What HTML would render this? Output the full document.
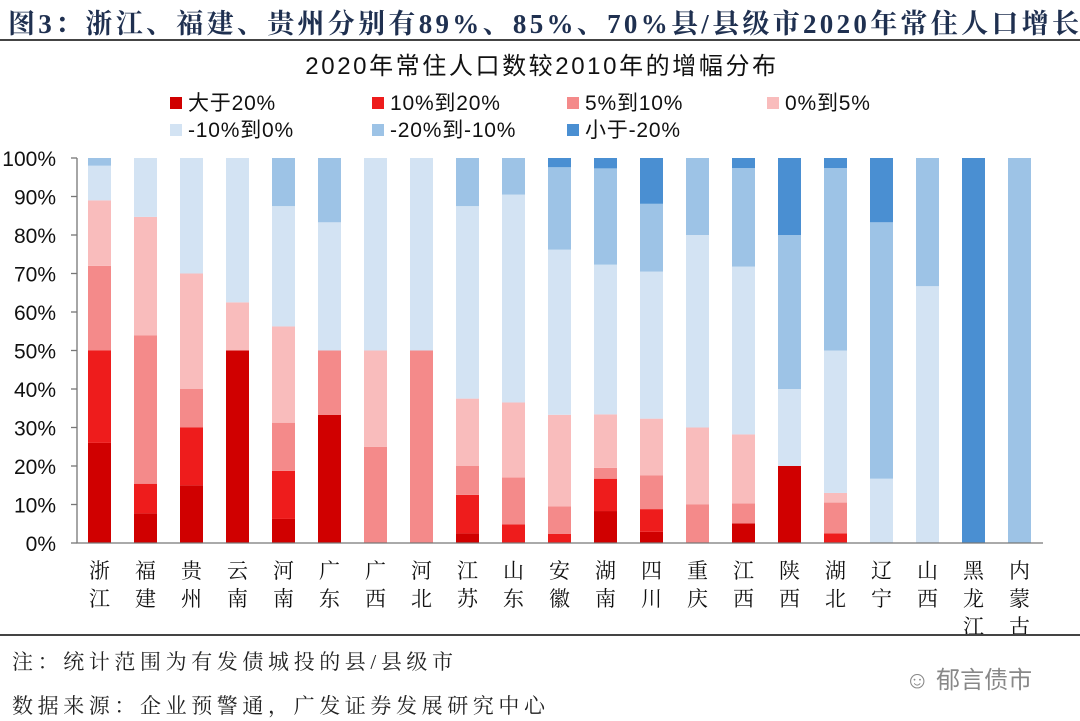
<!DOCTYPE html>
<html><head><meta charset="utf-8"><style>
body{margin:0;width:1080px;height:721px;background:#fff;overflow:hidden;position:relative;font-family:"Liberation Sans","Noto Sans CJK SC",sans-serif}
.hd{position:absolute;left:8px;top:2px;font-size:27px;font-weight:bold;color:#1f3050;font-family:"Liberation Serif","Noto Serif CJK SC",serif;letter-spacing:3.3px;white-space:nowrap}
.ln{position:absolute;left:0;width:1080px;height:2px;background:#444}
.ft{position:absolute;left:12px;font-size:21px;color:#222;font-family:"Liberation Serif","Noto Serif CJK SC",serif;letter-spacing:4.6px;white-space:nowrap}
</style></head><body>
<div class="hd">图3：浙江、福建、贵州分别有89%、85%、70%县/县级市2020年常住人口增长</div>
<div class="ln" style="top:39px"></div>
<svg id="c" width="1080" height="721" style="position:absolute;left:0;top:0"></svg>
<div class="ln" style="top:634px;height:1.5px"></div>
<div class="ft" style="top:646px">注：统计范围为有发债城投的县/县级市</div>
<div class="ft" style="top:690px">数据来源：企业预警通，广发证券发展研究中心</div>
<div style="position:absolute;left:905px;top:660px;font-size:24px;color:#888">☺ 郁言债市</div>
<script>
const categories=["浙江","福建","贵州","云南","河南","广东","广西","河北","江苏","山东","安徽","湖南","四川","重庆","江西","陕西","湖北","辽宁","山西","黑龙江","内蒙古"];
const seriesNames=["大于20%","10%到20%","5%到10%","0%到5%","-10%到0%","-20%到-10%","小于-20%"];
const s1=[26,7.7,15,50,6.25,33.3,0,0,2.5,0,0,8.3,2.9,0,5.1,20,0,0,0,0,0];
const s2=[24,7.7,15,0,12.5,0,0,0,10,4.8,2.4,8.4,5.9,0,0,0,2.5,0,0,0,0];
const s3=[22,38.5,10,0,12.5,16.7,25,50,7.5,12.2,7.1,2.8,8.8,10,5.2,0,8,0,0,0,0];
const s4=[17,30.8,30,12.5,25,0,25,0,17.5,19.5,23.8,13.9,14.7,20,17.9,0,2.5,0,0,0,0];
const s5=[9,15.3,30,37.5,31.25,33.3,50,50,50,54,42.9,38.9,38.2,50,43.6,20,37,16.7,66.7,0,0];
const s6=[2,0,0,0,12.5,16.7,0,0,12.5,9.5,21.4,25,17.6,20,25.6,40,47.4,66.6,33.3,0,100];
const s7=[0,0,0,0,0,0,0,0,0,0,2.4,2.7,11.9,0,2.6,20,2.6,16.7,0,100,0];
const yTicks=["0%","10%","20%","30%","40%","50%","60%","70%","80%","90%","100%"];
const series=[s1,s2,s3,s4,s5,s6,s7];
const colors=["#d00000","#ee1c1c","#f48a8a","#f9bcbc","#d3e3f3","#9dc3e6","#4a8fd2"];
const NS="http://www.w3.org/2000/svg",svg=document.getElementById('c');
const X0=77,Y0=543,Y1=158,STEP=46,BW=23;
const y=v=>Y0-(Y0-Y1)*v/100, x=i=>X0+11+i*STEP;
function mk(t,a,txt){const e=document.createElementNS(NS,t);for(const k in a)e.setAttribute(k,a[k]);if(txt!=null)e.textContent=txt;svg.appendChild(e);return e;}
const tt=mk('text',{x:542,y:74,'text-anchor':'middle','font-size':24,'letter-spacing':2.6,fill:'#111'},'2020年常住人口数较2010年的增幅分布');


const lx=[170,372,567,767];
seriesNames.forEach((n,k)=>{const r=Math.floor(k/4),c=k%4;
 const g=mk('g',{});
 const sq=document.createElementNS(NS,'rect');sq.setAttribute('x',lx[c]);sq.setAttribute('y',97+r*27);sq.setAttribute('width',12);sq.setAttribute('height',12);sq.setAttribute('fill',colors[k]);g.appendChild(sq);
 const t=document.createElementNS(NS,'text');t.setAttribute('x',lx[c]+18);t.setAttribute('y',110+r*27);t.setAttribute('font-size',21);t.setAttribute('letter-spacing',0.8);t.setAttribute('fill','#111');t.textContent=n;g.appendChild(t);});
categories.forEach((cat,i)=>{let acc=0;series.forEach((s,k)=>{const v=s[i];if(v>0){const r=mk('rect',{x:x(i),y:y(acc+v),width:BW,height:y(acc)-y(acc+v),fill:colors[k]});
 
 }acc+=v;});
 [...cat].forEach((ch,j)=>{const t=mk('text',{x:x(i)+BW/2,y:578+j*28,'text-anchor':'middle','font-size':21,fill:'#111','font-family':'"Liberation Serif","Noto Serif CJK SC",serif'},ch);
 
 });});
const ax=mk('path',{d:`M${X0} ${Y1}V${Y0}H1043`,stroke:'#777',fill:'none','stroke-width':1.3});


yTicks.forEach((l,k)=>{const yy=y(k*10);mk('line',{x1:X0-6,x2:X0,y1:yy,y2:yy,stroke:'#777','stroke-width':1.3});
 const t=mk('text',{x:56,y:yy+8,'text-anchor':'end','font-size':21,fill:'#111'},l);
 
 });
</script>
</body></html>
